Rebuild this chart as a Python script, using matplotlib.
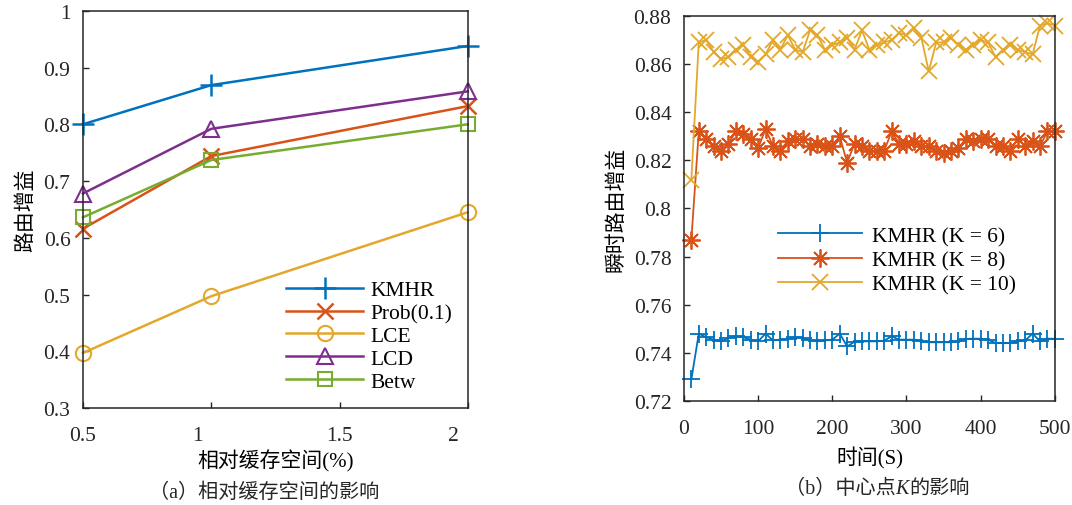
import numpy as np
import matplotlib
matplotlib.use("Agg")
import matplotlib.pyplot as plt
from matplotlib.offsetbox import TextArea, HPacker, AnnotationBbox
from matplotlib.transforms import ScaledTranslation

plt.rcParams['font.family'] = ['Liberation Serif', 'Noto Sans CJK SC']

# (a) 相对缓存空间
cache = [0.5, 1.0, 2.0]
kmhr = [0.800, 0.869, 0.938]
prob = [0.616, 0.744, 0.832]
lce = [0.397, 0.497, 0.645]
lcd = [0.678, 0.792, 0.858]
betw = [0.636, 0.737, 0.800]

# (b) 中心点K
t = list(range(10, 501, 10))
k6 = [0.729, 0.748, 0.7465, 0.7455, 0.7448, 0.7462, 0.7469, 0.7465, 0.7455, 0.7448,
      0.748, 0.7452, 0.7455, 0.7458, 0.7465, 0.7462, 0.7452, 0.7448, 0.7452, 0.7455,
      0.748, 0.7427, 0.7446, 0.7448, 0.7448, 0.7448, 0.7451, 0.7469, 0.7455, 0.7455,
      0.7455, 0.7448, 0.7444, 0.7444, 0.7444, 0.7444, 0.7448, 0.7458, 0.7459, 0.7459,
      0.7455, 0.7441, 0.7441, 0.7441, 0.7448, 0.7452, 0.748, 0.7448, 0.7459, 0.7459]
k8 = [0.787, 0.832, 0.829, 0.826, 0.824, 0.827, 0.832, 0.831, 0.829, 0.825,
      0.833, 0.826, 0.824, 0.828, 0.829, 0.829, 0.826, 0.827, 0.826, 0.826,
      0.830, 0.819, 0.827, 0.826, 0.824, 0.824, 0.824, 0.832, 0.827, 0.827,
      0.828, 0.826, 0.826, 0.824, 0.823, 0.824, 0.825, 0.829, 0.828, 0.829,
      0.829, 0.826, 0.826, 0.824, 0.829, 0.826, 0.828, 0.826, 0.832, 0.832]
k10 = [0.812, 0.869, 0.870, 0.865, 0.862, 0.863, 0.866, 0.868, 0.863, 0.861,
       0.864, 0.870, 0.866, 0.872, 0.866, 0.865, 0.874, 0.872, 0.866, 0.868,
       0.869, 0.871, 0.866, 0.874, 0.866, 0.868, 0.869, 0.870, 0.873, 0.872,
       0.875, 0.871, 0.857, 0.869, 0.869, 0.871, 0.868, 0.866, 0.868, 0.870,
       0.869, 0.863, 0.866, 0.868, 0.866, 0.865, 0.864, 0.876, 0.877, 0.876]

c_blue = '#0072BD'
c_red = '#D95319'
c_yel = '#E3A82B'
c_pur = '#7E2F8E'
c_grn = '#77AC30'
txt = '#262626'

fig = plt.figure(figsize=(10.72, 5.06), dpi=100)

# ---- left plot
ax1 = fig.add_axes([0.0774, 0.1917, 0.359, 0.785])
lw = 1.8
ax1.plot(cache, kmhr, color=c_blue, lw=lw, marker='+', ms=16, mew=1.8, label='KMHR', clip_on=False)
ax1.plot(cache, prob, color=c_red, lw=lw, marker='x', ms=12, mew=1.8, label='Prob(0.1)', clip_on=False)
ax1.plot(cache, lce, color=c_yel, lw=lw, marker='o', ms=11, mew=1.5, mfc='none', label='LCE', clip_on=False)
ax1.plot(cache, lcd, color=c_pur, lw=lw, marker='^', ms=12, mew=1.5, mfc='none', label='LCD', clip_on=False)
ax1.plot(cache, betw, color=c_grn, lw=lw, marker='s', ms=10, mew=1.5, mfc='none', label='Betw', clip_on=False)
ax1.set_xlim(0.5, 2.0)
ax1.set_ylim(0.3, 1.0)
ax1.set_xticks([0.5, 1, 1.5, 2])
ax1.set_xticklabels(['0.5', '1', '1.5', '2'])
ax1.set_yticks([0.3, 0.4, 0.5, 0.6, 0.7, 0.8, 0.9, 1.0])
ax1.set_yticklabels(['0.3', '0.4', '0.5', '0.6', '0.7', '0.8', '0.9', '1'])
ax1.set_xlabel('相对缓存空间(%)', fontsize=15, labelpad=3)
ax1.set_ylabel('路由增益', fontsize=15, labelpad=5)
ax1.legend(loc='lower right', frameon=False, fontsize=15.5, handlelength=3.6,
           handletextpad=0.35, labelspacing=0.13, borderaxespad=0.3,
           bbox_to_anchor=(1.0, 0.003))

# ---- right plot
ax2 = fig.add_axes([0.638, 0.2055, 0.346, 0.761])
ax2.plot(t, k6, color=c_blue, lw=1.3, marker='+', ms=13, mew=1.3, label='KMHR (K = 6)', clip_on=False)
ax2.plot(t, k8, color=c_red, lw=1.3, marker=(8, 2, 0), ms=13, mew=1.3, label='KMHR (K = 8)', clip_on=False)
ax2.plot(t, k10, color=c_yel, lw=1.3, marker='x', ms=12, mew=1.3, label='KMHR (K = 10)', clip_on=False)
ax2.set_xlim(0, 500)
ax2.set_ylim(0.72, 0.88)
ax2.set_xticks([0, 100, 200, 300, 400, 500])
ax2.set_yticks([0.72, 0.74, 0.76, 0.78, 0.80, 0.82, 0.84, 0.86, 0.88])
ax2.set_yticklabels(['0.72', '0.74', '0.76', '0.78', '0.8', '0.82', '0.84', '0.86', '0.88'])
ax2.set_xlabel('时间(S)', fontsize=15, labelpad=6)
ax2.set_ylabel('瞬时路由增益', fontsize=15, labelpad=5)
ax2.legend(loc='upper left', frameon=False, fontsize=15.5, handlelength=3.9,
           handletextpad=0.45, labelspacing=0.2, bbox_to_anchor=(0.202, 0.505))

for ax in (ax1, ax2):
    ax.tick_params(direction='in', top=False, right=False, labelsize=15.5,
                   length=4, width=1, colors=txt)
    ax.tick_params(axis='x', pad=13)
    ax.tick_params(axis='y', pad=9)
    for s in ax.spines.values():
        s.set_linewidth(1.1)
        s.set_color(txt)

# the "1" and "2" labels sit a bit left of their ticks in the original
for lab in ax1.get_xticklabels():
    if lab.get_text() in ('1', '2'):
        lab.set_transform(lab.get_transform() + ScaledTranslation(-0.14, 0, fig.dpi_scale_trans))


def caption(parts, xy):
    boxes = [TextArea(s, textprops=dict(fontsize=14.5, color=txt, **kw)) for s, kw in parts]
    pack = HPacker(children=boxes, pad=0, sep=0, align='baseline')
    ab = AnnotationBbox(pack, xy, xycoords='figure fraction', frameon=False,
                        box_alignment=(0.5, 0.5))
    fig.add_artist(ab)


caption([('（a）相对缓存空间的影响', {})], (0.246, 0.026))
caption([('（b）中心点', {}), ('K', dict(style='italic', family='Liberation Serif')), ('的影响', {})],
        (0.818, 0.033))

fig.savefig('out.png', dpi=100)
